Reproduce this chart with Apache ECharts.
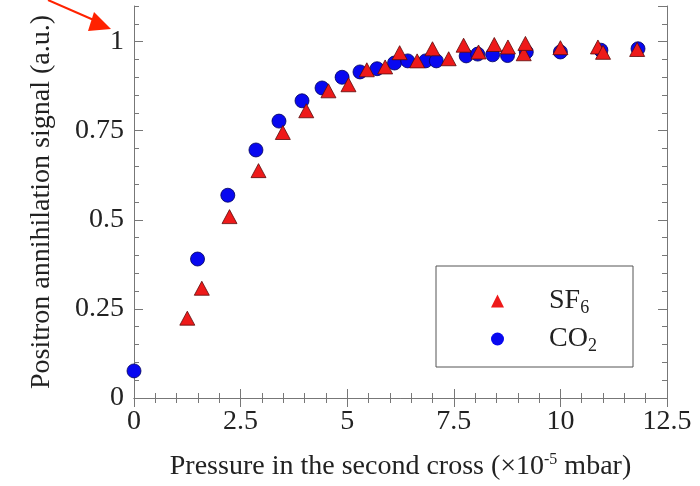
<!DOCTYPE html>
<html><head><meta charset="utf-8">
<script src="https://cdn.jsdelivr.net/npm/echarts@6/dist/echarts.min.js"></script>
<style>html,body{margin:0;padding:0;background:#fff}#c{width:700px;height:486px}</style>
</head><body><div id="c"></div>
<script>
const xTicks = [0, 2.5, 5, 7.5, 10, 12.5];
const yTicks = [0, 0.25, 0.5, 0.75, 1];
const seriesNames = ['SF6', 'CO2'];
const sf6X = [1.25,1.59,2.24,2.92,3.49,4.04,4.56,5.03,5.46,5.89,6.23,6.64,7.0,7.38,7.73,8.08,8.45,8.77,9.14,9.18,10.0,10.88,11.0,11.8];
const sf6Y = [0.224,0.308,0.509,0.638,0.745,0.806,0.862,0.879,0.921,0.929,0.969,0.946,0.98,0.952,0.99,0.971,0.992,0.985,0.966,0.995,0.983,0.985,0.97,0.978];
const co2X = [0,1.49,2.2,2.86,3.40,3.94,4.41,4.88,5.30,5.70,6.11,6.42,6.84,7.09,7.79,8.06,8.41,8.76,9.2,10.0,10.95,11.82];
const co2Y = [0.076,0.39,0.569,0.696,0.777,0.834,0.870,0.90,0.915,0.924,0.94,0.946,0.946,0.946,0.96,0.965,0.963,0.961,0.971,0.971,0.976,0.98];

const FONT = 'Liberation Serif';
const AX = '#777';
const chart = echarts.init(document.getElementById('c'), null, {renderer:'canvas'});
const pairs = (xs, ys) => xs.map((x, i) => [x, ys[i]]);
const near = (v, arr) => arr.some(t => Math.abs(t - v) < 1e-6);
const baseX = {type:'value', min:0, max:12.5, interval:2.5, splitLine:{show:false},
  axisLine:{show:true, lineStyle:{color:AX, width:1}}};
const baseY = {type:'value', min:0, max:1.1, splitLine:{show:false}};
chart.setOption({
  animation:false,
  grid:{left:134, right:33, top:6, bottom:86, containLabel:false},
  legend:{
    data:[
      {name:'SF6', itemStyle:{borderWidth:0}},
      {name:'CO2', itemStyle:{borderWidth:0}}
    ],
    orient:'vertical', left:486, top:280, itemGap:6,
    itemWidth:13, itemHeight:13,
    formatter: n => n === 'SF6' ? '{a|SF}{s|6}' : '{a|CO}{s|2}',
    textStyle:{color:'#222', fontFamily:FONT, fontSize:28, padding:[0,0,0,40],
      rich:{a:{fontFamily:FONT, fontSize:28, color:'#222', lineHeight:30},
            s:{fontFamily:FONT, fontSize:18, color:'#222', lineHeight:30, padding:[14,0,0,0]}}}
  },
  graphic:[
    {type:'rect', shape:{x:436, y:266, width:197, height:101}, style:{fill:'none', stroke:'#555', lineWidth:1}, z:10},
    {type:'line', shape:{x1:48, y1:0, x2:96, y2:21}, style:{stroke:'#ff2200', lineWidth:2}, z:10},
    {type:'polygon', shape:{points:[[111,29],[94,12],[88,31]]}, style:{fill:'#ff2200'}, z:10}
  ],
  xAxis:[
    Object.assign({}, baseX, {position:'bottom',
      name:'Pressure in the second cross (×10{sup|-5} mbar)', nameLocation:'middle', nameGap:54,
      nameTextStyle:{fontFamily:FONT, fontSize:28, color:'#222',
        rich:{sup:{fontFamily:FONT, fontSize:16, color:'#222', padding:[0,0,14,0]}}},
      axisTick:{show:true, inside:true, length:9, lineStyle:{color:AX}},
      minorTick:{show:true, splitNumber:5, length:5, lineStyle:{color:AX}},
      axisLabel:{fontFamily:FONT, fontSize:28, color:'#222', margin:10,
        formatter: v => near(v, xTicks) ? String(v) : ''}}),
    Object.assign({}, baseX, {position:'top',
      axisTick:{show:true, inside:true, length:9, lineStyle:{color:AX}},
      minorTick:{show:true, splitNumber:5, length:5, lineStyle:{color:AX}},
      axisLabel:{show:false}})
  ],
  yAxis:[
    Object.assign({}, baseY, {position:'left', interval:0.25,
      name:'Positron annihilation signal (a.u.)', nameLocation:'middle', nameGap:78,
      nameTextStyle:{fontFamily:FONT, fontSize:28, color:'#222'},
      axisLine:{show:true, lineStyle:{color:AX}},
      axisTick:{show:true, inside:true, length:9, lineStyle:{color:AX}},
      axisLabel:{fontFamily:FONT, fontSize:28, color:'#222', margin:10, showMaxLabel:false,
        formatter: v => near(v, yTicks) ? String(v) : ''}}),
    Object.assign({}, baseY, {position:'left', interval:0.05,
      axisLine:{show:false}, axisTick:{show:true, inside:true, length:5, lineStyle:{color:AX}},
      axisLabel:{show:false}}),
    Object.assign({}, baseY, {position:'right', interval:0.25,
      axisLine:{show:true, lineStyle:{color:AX}},
      axisTick:{show:true, inside:true, length:9, lineStyle:{color:AX}}, axisLabel:{show:false}}),
    Object.assign({}, baseY, {position:'right', interval:0.05,
      axisLine:{show:false}, axisTick:{show:true, inside:true, length:5, lineStyle:{color:AX}},
      axisLabel:{show:false}})
  ],
  series:[
    {name:'CO2', type:'scatter', xAxisIndex:0, yAxisIndex:0, data:pairs(co2X, co2Y),
      symbol:'circle', symbolSize:14,
      itemStyle:{color:'#0808f0', borderColor:'#00005a', borderWidth:0.8, opacity:1}},
    {name:'SF6', type:'scatter', xAxisIndex:0, yAxisIndex:0, data:pairs(sf6X, sf6Y),
      symbol:'triangle', symbolSize:[15,14],
      itemStyle:{color:'#ee1a1a', borderColor:'#5a0a0a', borderWidth:0.8, opacity:1}}
  ]
});
</script></body></html>
